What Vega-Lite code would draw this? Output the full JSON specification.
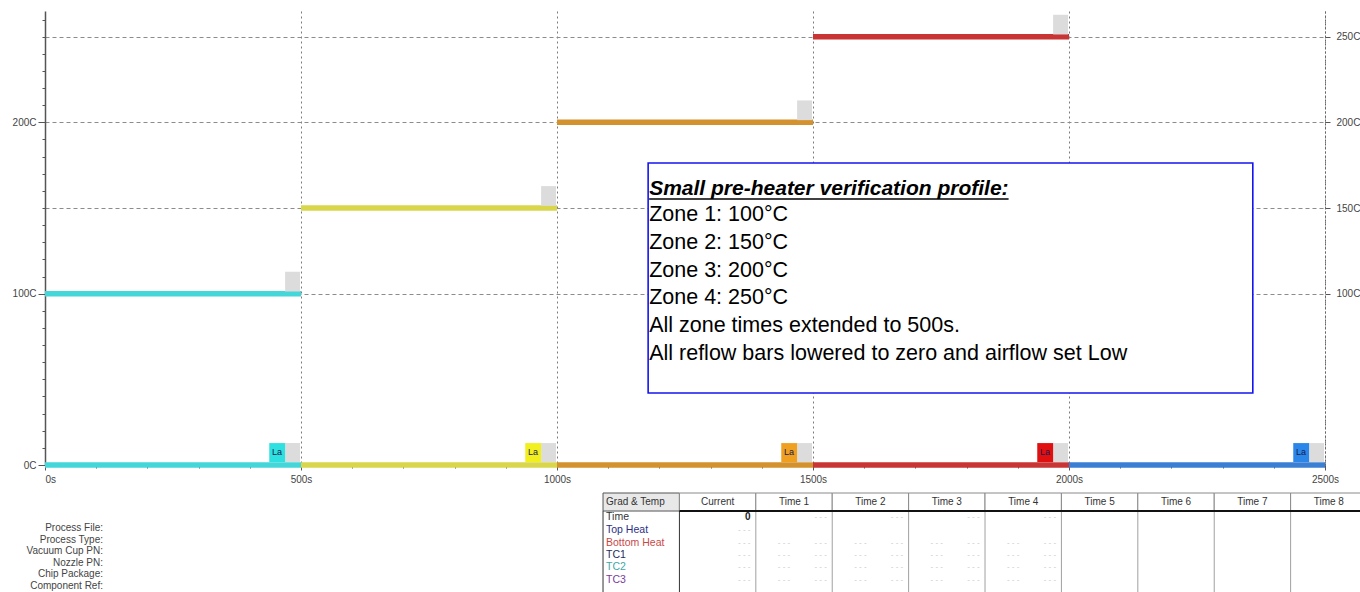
{
"$schema":"https://vega.github.io/schema/vega-lite/v6.json",
"width":1280,"height":454,
"autosize":{"type":"none"},
"padding":{"left":45,"top":11,"right":35,"bottom":127},
"background":"#ffffff",
"config":{"view":{"stroke":null},"axis":{"labelFont":"Liberation Sans Narrow, Liberation Sans","labelFontSize":10,"labelColor":"#444444","domainColor":"#555555","tickColor":"#555555","title":null}},
"datasets":{
"steps":[
{"zone":"Zone 1","t0":0,"t1":500,"temp":100},
{"zone":"Zone 2","t0":500,"t1":1000,"temp":150},
{"zone":"Zone 3","t0":1000,"t1":1500,"temp":200},
{"zone":"Zone 4","t0":1500,"t1":2000,"temp":250},
{"zone":"Zone 1","t0":0,"t1":500,"temp":0},
{"zone":"Zone 2","t0":500,"t1":1000,"temp":0},
{"zone":"Zone 3","t0":1000,"t1":1500,"temp":0},
{"zone":"Zone 4","t0":1500,"t1":2000,"temp":0},
{"zone":"Zone 5","t0":2000,"t1":2500,"temp":0}
],
"markers":[
{"swatch":"gray","t0":469,"t1":498,"c0":101.3,"c1":112.8},
{"swatch":"gray","t0":969,"t1":998,"c0":151.3,"c1":162.8},
{"swatch":"gray","t0":1469,"t1":1498,"c0":201.3,"c1":212.8},
{"swatch":"gray","t0":1969,"t1":1998,"c0":251.3,"c1":262.8},
{"swatch":"gray","t0":469,"t1":498,"c0":1.7,"c1":12.8},
{"swatch":"gray","t0":969,"t1":998,"c0":1.7,"c1":12.8},
{"swatch":"gray","t0":1469,"t1":1498,"c0":1.7,"c1":12.8},
{"swatch":"gray","t0":1969,"t1":1998,"c0":1.7,"c1":12.8},
{"swatch":"gray","t0":2469,"t1":2498,"c0":1.7,"c1":12.8},
{"swatch":"Zone 1","t0":438,"t1":469,"c0":1.7,"c1":12.8},
{"swatch":"Zone 2","t0":938,"t1":969,"c0":1.7,"c1":12.8},
{"swatch":"Zone 3","t0":1438,"t1":1469,"c0":1.7,"c1":12.8},
{"swatch":"Zone 4","t0":1938,"t1":1969,"c0":1.7,"c1":12.8},
{"swatch":"Zone 5","t0":2438,"t1":2469,"c0":1.7,"c1":12.8}
],
"box":[{"x0":1178,"x1":2359,"y0":42,"y1":176.3}],
"title":[{"line":"Small pre-heater verification profile:","t":1180,"c":161.3,"u0":1180,"u1":1882,"uc":155.2}],
"note":[
{"line":"Zone 1: 100°C","t":1180,"c":145.7},
{"line":"Zone 2: 150°C","t":1180,"c":129.5},
{"line":"Zone 3: 200°C","t":1180,"c":113.5},
{"line":"Zone 4: 250°C","t":1180,"c":97.4},
{"line":"All zone times extended to 500s.","t":1180,"c":81.0},
{"line":"All reflow bars lowered to zero and airflow set Low","t":1180,"c":64.8}
],
"header":[
{"cell":"Grad & Temp","k0":0,"k1":1,"kc":0.5},
{"cell":"Current","k0":1,"k1":2,"kc":1.5},
{"cell":"Time 1","k0":2,"k1":3,"kc":2.5},
{"cell":"Time 2","k0":3,"k1":4,"kc":3.5},
{"cell":"Time 3","k0":4,"k1":5,"kc":4.5},
{"cell":"Time 4","k0":5,"k1":6,"kc":5.5},
{"cell":"Time 5","k0":6,"k1":7,"kc":6.5},
{"cell":"Time 6","k0":7,"k1":8,"kc":7.5},
{"cell":"Time 7","k0":8,"k1":9,"kc":8.5},
{"cell":"Time 8","k0":9,"k1":10,"kc":9.5}
],
"rowlabels":[
{"label":"Time","r":1.9},
{"label":"Top Heat","r":2.93},
{"label":"Bottom Heat","r":3.97},
{"label":"TC1","r":4.92},
{"label":"TC2","r":5.87},
{"label":"TC3","r":6.9}
],
"values":[{"v":"0","k":1.93,"r":1.9}],
"dashes":[
{"k":2.93,"r":1.9},{"k":3.93,"r":1.9},{"k":4.93,"r":1.9},{"k":5.93,"r":1.9},
{"k":1.93,"r":2.93},
{"k":1.93,"r":3.97},{"k":2.45,"r":3.97},{"k":2.93,"r":3.97},{"k":3.45,"r":3.97},{"k":3.93,"r":3.97},{"k":4.45,"r":3.97},{"k":4.93,"r":3.97},{"k":5.45,"r":3.97},{"k":5.93,"r":3.97},
{"k":1.93,"r":4.92},{"k":2.45,"r":4.92},{"k":2.93,"r":4.92},{"k":3.45,"r":4.92},{"k":3.93,"r":4.92},{"k":4.45,"r":4.92},{"k":4.93,"r":4.92},{"k":5.45,"r":4.92},{"k":5.93,"r":4.92},
{"k":1.93,"r":5.87},{"k":2.45,"r":5.87},{"k":2.93,"r":5.87},{"k":3.45,"r":5.87},{"k":3.93,"r":5.87},{"k":4.45,"r":5.87},{"k":4.93,"r":5.87},{"k":5.45,"r":5.87},{"k":5.93,"r":5.87},
{"k":1.93,"r":6.9},{"k":2.45,"r":6.9},{"k":2.93,"r":6.9},{"k":3.45,"r":6.9},{"k":3.93,"r":6.9},{"k":4.45,"r":6.9},{"k":4.93,"r":6.9},{"k":5.45,"r":6.9},{"k":5.93,"r":6.9}
],
"info":[
{"label":"Process File:","r":2.78},
{"label":"Process Type:","r":3.7},
{"label":"Vacuum Cup PN:","r":4.62},
{"label":"Nozzle PN:","r":5.54},
{"label":"Chip Package:","r":6.46},
{"label":"Component Ref:","r":7.36}
]
},
"layer":[
{
"layer":[
{"data":{"name":"steps"},
 "mark":{"type":"rule","strokeWidth":5.5,"strokeCap":"butt"},
 "encoding":{
  "x":{"field":"t0","type":"quantitative","title":null,"scale":{"domain":[0,2500],"nice":false},
   "axis":{"values":[0,100,200,300,400,500,600,700,800,900,1000,1100,1200,1300,1400,1500,1600,1700,1800,1900,2000,2100,2200,2300,2400,2500],
    "labelExpr":"datum.value % 500 === 0 ? datum.value + 's' : ''","labelOverlap":false,
    "labelAlign":{"condition":{"test":"datum.value === 0","value":"left"},"value":"center"},
    "grid":true,"gridColor":"#7a7a7a","gridDash":[2,3],"gridWidth":1,
    "gridOpacity":{"condition":{"test":"datum.value % 500 === 0 && datum.value > 0","value":1},"value":0},
    "tickSize":{"condition":{"test":"datum.value % 500 === 0","value":5},"value":3},
    "labelPadding":4,"domainWidth":1}},
  "x2":{"field":"t1"},
  "y":{"field":"temp","type":"quantitative","title":null,"scale":{"domain":[0,265],"nice":false},
   "axis":{"orient":"left","values":[0,10,20,30,40,50,60,70,80,90,100,110,120,130,140,150,160,170,180,190,200,210,220,230,240,250,260],
    "labelExpr":"datum.value % 100 === 0 ? datum.value + 'C' : ''","labelOverlap":false,
    "grid":true,"gridColor":"#8c8c8c","gridDash":[4,3],"gridWidth":1,
    "gridOpacity":{"condition":{"test":"datum.value % 50 === 0 && datum.value >= 100","value":1},"value":0},
    "tickSize":{"condition":{"test":"datum.value % 100 === 0","value":7},"value":3},
    "labelPadding":2,"domainWidth":1.5}},
  "stroke":{"field":"zone","type":"nominal","legend":null,
   "scale":{"domain":["Zone 1","Zone 2","Zone 3","Zone 4","Zone 5"],"range":["#45d6d9","#d9d64c","#d4922e","#c93434","#3b7fd4"]}}
 }},
{"data":{"name":"markers"},
 "mark":{"type":"rect"},
 "encoding":{
  "x":{"field":"t0","type":"quantitative","title":null},
  "x2":{"field":"t1"},
  "y":{"field":"c0","type":"quantitative","title":null,
   "axis":{"orient":"right","values":[100,150,200,250],"labelExpr":"datum.value + 'C'","grid":false,
    "domainDash":[2,2],"domainColor":"#666666","tickSize":5,"labelPadding":6}},
  "y2":{"field":"c1"},
  "fill":{"field":"swatch","type":"nominal","legend":null,
   "scale":{"domain":["gray","Zone 1","Zone 2","Zone 3","Zone 4","Zone 5"],"range":["#dcdcdc","#2fe0e0","#f2ef1e","#f0a020","#e01010","#2a86e8"]}}
 }},
{"data":{"name":"markers"},
 "transform":[{"filter":"datum.swatch !== 'gray'"}],
 "mark":{"type":"text","text":"La","align":"right","baseline":"top","dx":-3,"dy":5,"fontSize":9,"font":"Liberation Sans","color":"#1a1a50"},
 "encoding":{
  "x":{"field":"t1","type":"quantitative","title":null},
  "y":{"field":"c1","type":"quantitative","title":null,"axis":null}
 }},
{"data":{"name":"box"},
 "mark":{"type":"rect","fill":"#ffffff","stroke":"#1414f0","strokeWidth":1.6},
 "encoding":{
  "x":{"field":"x0","type":"quantitative","title":null},
  "x2":{"field":"x1"},
  "y":{"field":"y0","type":"quantitative","title":null,"axis":null},
  "y2":{"field":"y1"}
 }},
{"data":{"name":"title"},
 "mark":{"type":"text","align":"left","baseline":"middle","font":"Liberation Sans","fontSize":21,"fontWeight":"bold","fontStyle":"italic","color":"#000000"},
 "encoding":{
  "x":{"field":"t","type":"quantitative","title":null},
  "y":{"field":"c","type":"quantitative","title":null,"axis":null},
  "text":{"field":"line"}
 }},
{"data":{"name":"title"},
 "mark":{"type":"rule","color":"#000000","strokeWidth":1.5},
 "encoding":{
  "x":{"field":"u0","type":"quantitative","title":null},
  "x2":{"field":"u1"},
  "y":{"field":"uc","type":"quantitative","title":null,"axis":null}
 }},
{"data":{"name":"note"},
 "mark":{"type":"text","align":"left","baseline":"middle","font":"Liberation Sans","fontSize":21.5,"color":"#000000"},
 "encoding":{
  "x":{"field":"t","type":"quantitative","title":null},
  "y":{"field":"c","type":"quantitative","title":null,"axis":null},
  "text":{"field":"line"}
 }}
],
"resolve":{"axis":{"y":"independent"}}
},
{
"layer":[
{"data":{"name":"header"},
 "mark":{"type":"rect","strokeWidth":1},
 "encoding":{
  "x":{"field":"k0","type":"quantitative","title":null,"axis":null,"scale":{"domain":[-7.304,9.45],"nice":false,"zero":false}},
  "x2":{"field":"k1"},
  "y":{"datum":0,"type":"quantitative","axis":null,"scale":{"domain":[-38.25,-2.222],"nice":false,"zero":false,"reverse":true}},
  "y2":{"datum":1.43},
  "fill":{"condition":{"test":"datum.k0 === 0","value":"#e8e8e8"},"value":"#ffffff"},
  "stroke":{"condition":{"test":"datum.k0 === 0","value":"#555555"},"value":"#8a8a8a"}
 }},
{"data":{"name":"header"},
 "mark":{"type":"rule","strokeWidth":1},
 "encoding":{
  "x":{"field":"k0","type":"quantitative","title":null,"axis":null},
  "y":{"datum":1.43,"type":"quantitative","axis":null},
  "y2":{"datum":9},
  "stroke":{"condition":{"test":"datum.k0 <= 1","value":"#333333"},"value":"#a0a0a0"}
 }},
{"data":{"name":"header"},
 "transform":[{"filter":"datum.k0 === 1"}],
 "mark":{"type":"rule","strokeWidth":2.2,"color":"#111111"},
 "encoding":{
  "x":{"field":"k0","type":"quantitative","title":null,"axis":null},
  "x2":{"datum":10.6},
  "y":{"datum":1.43,"type":"quantitative","axis":null}
 }},
{"data":{"name":"header"},
 "transform":[{"filter":"datum.k0 === 0"}],
 "mark":{"type":"text","align":"left","baseline":"middle","dx":3,"font":"Liberation Sans Narrow, Liberation Sans","fontSize":10,"color":"#333333"},
 "encoding":{
  "x":{"field":"k0","type":"quantitative","title":null,"axis":null},
  "y":{"datum":0.72,"type":"quantitative","axis":null},
  "text":{"field":"cell"}
 }},
{"data":{"name":"header"},
 "transform":[{"filter":"datum.k0 > 0"}],
 "mark":{"type":"text","align":"center","baseline":"middle","font":"Liberation Sans Narrow, Liberation Sans","fontSize":10,"color":"#333333"},
 "encoding":{
  "x":{"field":"kc","type":"quantitative","title":null,"axis":null},
  "y":{"datum":0.72,"type":"quantitative","axis":null},
  "text":{"field":"cell"}
 }},
{"data":{"name":"rowlabels"},
 "mark":{"type":"text","align":"left","baseline":"middle","dx":3,"font":"Liberation Sans Narrow, Liberation Sans","fontSize":10.5},
 "encoding":{
  "x":{"datum":0,"type":"quantitative","axis":null},
  "y":{"field":"r","type":"quantitative","title":null,"axis":null},
  "text":{"field":"label"},
  "color":{"field":"label","type":"nominal","legend":null,
   "scale":{"domain":["Time","Top Heat","Bottom Heat","TC1","TC2","TC3"],"range":["#333333","#2b2f86","#c84848","#1d2d5e","#3fa8a8","#7a3c9c"]}}
 }},
{"data":{"name":"values"},
 "mark":{"type":"text","align":"right","baseline":"middle","font":"Liberation Sans","fontSize":10,"fontWeight":"bold","color":"#222222"},
 "encoding":{
  "x":{"field":"k","type":"quantitative","title":null,"axis":null},
  "y":{"field":"r","type":"quantitative","title":null,"axis":null},
  "text":{"field":"v"}
 }},
{"data":{"name":"dashes"},
 "mark":{"type":"text","text":"- - -","align":"right","baseline":"middle","font":"Liberation Sans","fontSize":8,"color":"#c8c8c8"},
 "encoding":{
  "x":{"field":"k","type":"quantitative","title":null,"axis":null},
  "y":{"field":"r","type":"quantitative","title":null,"axis":null}
 }},
{"data":{"name":"info"},
 "mark":{"type":"text","align":"right","baseline":"middle","font":"Liberation Sans Narrow, Liberation Sans","fontSize":10,"color":"#444444"},
 "encoding":{
  "x":{"datum":-6.545,"type":"quantitative","axis":null},
  "y":{"field":"r","type":"quantitative","title":null,"axis":null},
  "text":{"field":"label"}
 }}
]
}
],
"resolve":{"scale":{"x":"independent","y":"independent"}}
}
